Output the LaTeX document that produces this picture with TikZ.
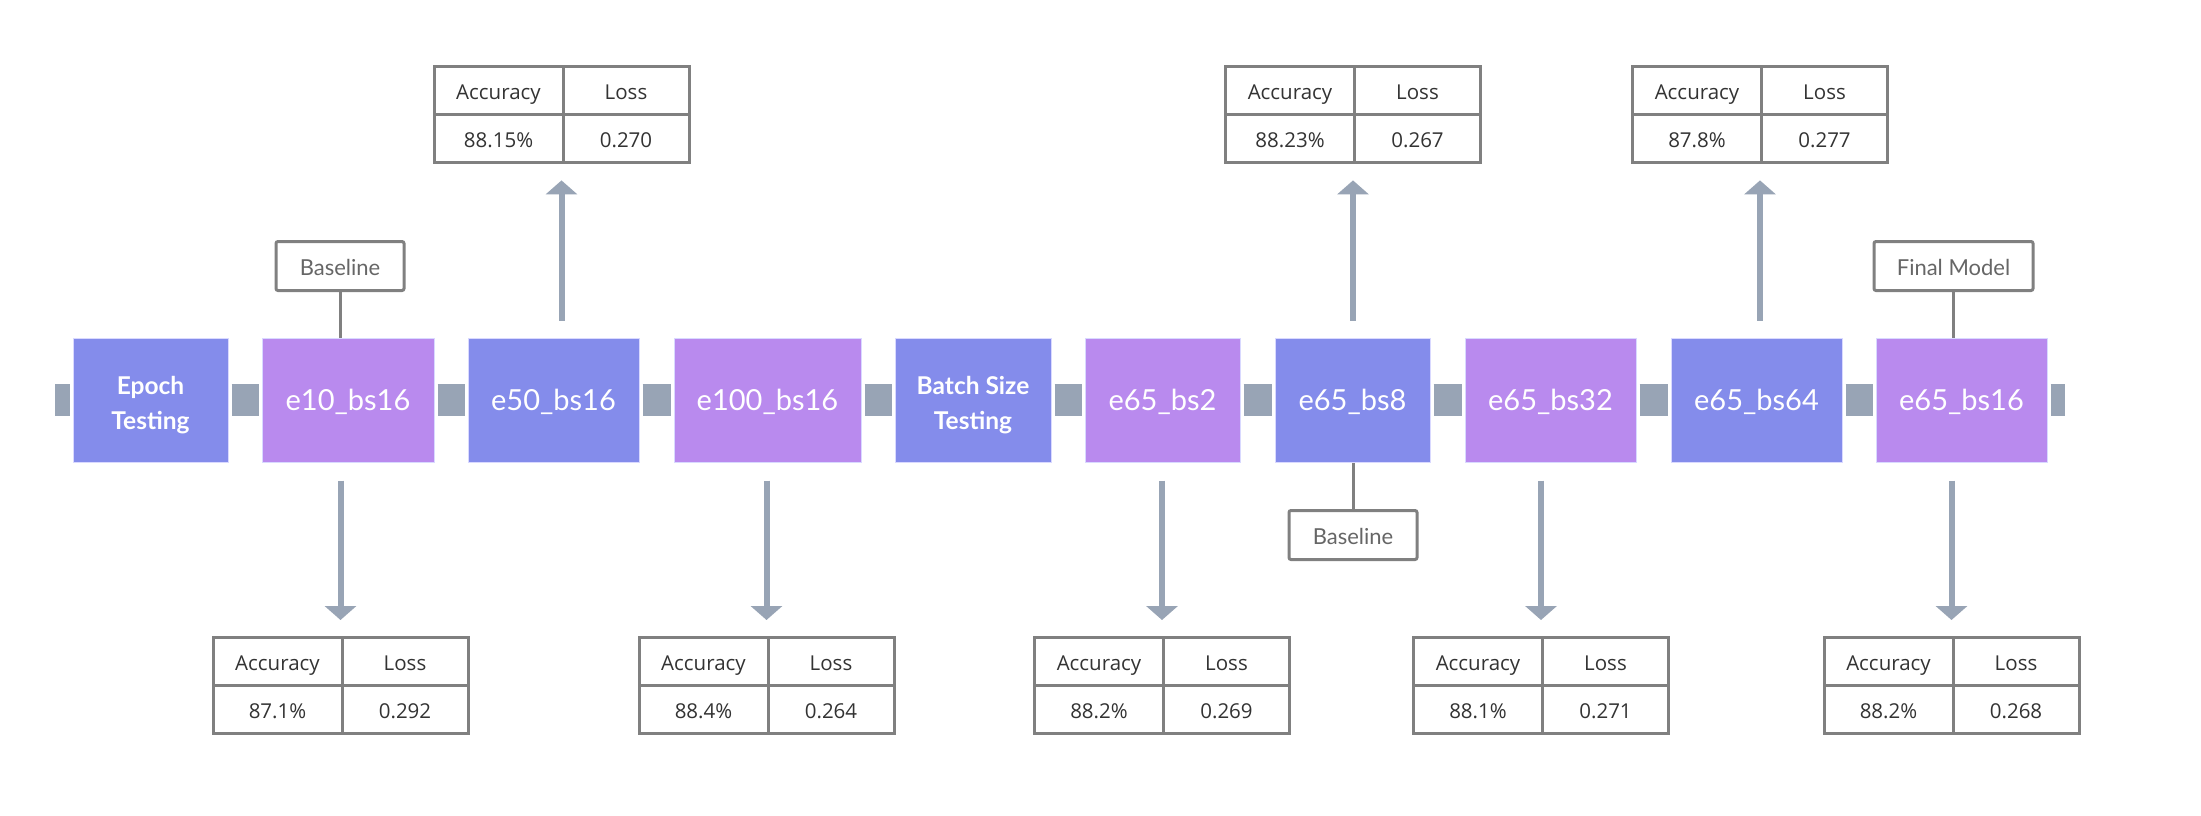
\documentclass[tikz,border=0pt]{standalone}
\usepackage{fontspec}
\setmainfont{Lato}
\newfontfamily\tabfont{Open Sans}
\usetikzlibrary{arrows.meta,fit}
\definecolor{bluebox}{HTML}{848CEB}
\definecolor{purplebox}{HTML}{B98AEE}
\definecolor{conn}{HTML}{98A4B5}
\definecolor{framegray}{HTML}{808080}
\definecolor{tabtext}{HTML}{333333}
\definecolor{labtext}{HTML}{666666}
\tikzset{
  boxbase/.style={minimum height=124pt, inner sep=0pt, text=white, draw=white!85!blue, line width=1pt},
  mainbox/.style={boxbase, text height=21pt, text depth=0pt, font=\fontsize{29}{35}\selectfont},
  bluestep/.style={mainbox, fill=bluebox},
  purplestep/.style={mainbox, fill=purplebox},
  headbox/.style={boxbase, fill=bluebox},
  headtext/.style={inner sep=0pt, text=white, align=center, yshift=-5pt,
    font=\fontsize{24.5}{35}\selectfont\bfseries},
  linkbar/.style={draw=conn, line width=32pt, line cap=butt, shorten <=3pt, shorten >=3pt},
  flowarrow/.style={draw=conn, line width=6pt, -{Triangle[width=31pt,length=14pt]}},
  cellA/.style={draw=framegray, line width=3pt, minimum width=129pt, minimum height=48pt, inner sep=0pt,
    text height=20pt, text depth=2pt,
    text=tabtext, font=\tabfont\fontsize{20.5}{24}\selectfont},
  cellB/.style={cellA, minimum width=126pt},
  tagbox/.style={draw=framegray, line width=3pt, rounded corners=2pt, fill=white, minimum height=49pt,
    inner sep=0pt, text height=19pt, text depth=1pt, text=labtext, font=\fontsize{22}{24}\selectfont},
  tagline/.style={draw=framegray, line width=3pt},
}
\newcommand{\restable}[5]{%
  \node[cellA] (#1a) at (#2-63,#3+24) {Accuracy};
  \node[cellB] (#1b) at (#2+64.5,#3+24) {Loss};
  \node[cellA] (#1c) at (#2-63,#3+72) {#4};
  \node[cellB] (#1d) at (#2+64.5,#3+72) {#5};
  \node[fit=(#1a)(#1d), inner sep=0pt] (#1) {};
}
\begin{document}
\begin{tikzpicture}[x=1pt, y=-1pt]
\fill[white] (0,0) rectangle (2201,815);
\useasboundingbox (0,0) rectangle (2201,815);

% main row
\node[headbox, minimum width=155pt, label={[headtext]center:{Epoch\\Testing}}] (epoch) at (150.5,400) {};
\node[purplestep, minimum width=172pt] (e10) at (348,400) {e10\_bs16};
\node[bluestep, minimum width=171pt] (e50) at (553.5,400) {e50\_bs16};
\node[purplestep, minimum width=187pt] (e100) at (767.5,400) {e100\_bs16};
\node[headbox, minimum width=156pt, label={[headtext]center:{Batch Size\\Testing}}] (batch) at (973,400) {};
\node[purplestep, minimum width=155pt] (bs2) at (1162.5,400) {e65\_bs2};
\node[bluestep, minimum width=155pt] (bs8) at (1352.5,400) {e65\_bs8};
\node[purplestep, minimum width=171pt] (bs32) at (1550.5,400) {e65\_bs32};
\node[bluestep, minimum width=171pt] (bs64) at (1756.5,400) {e65\_bs64};
\node[purplestep, minimum width=171pt] (bs16) at (1961.5,400) {e65\_bs16};

\coordinate (lstart) at (55,400);
\coordinate (rend) at (2065,400);
\draw[linkbar, shorten <=0pt] (lstart) -- (epoch.west);
\draw[linkbar] (epoch.east) -- (e10.west);
\draw[linkbar] (e10.east) -- (e50.west);
\draw[linkbar] (e50.east) -- (e100.west);
\draw[linkbar] (e100.east) -- (batch.west);
\draw[linkbar] (batch.east) -- (bs2.west);
\draw[linkbar] (bs2.east) -- (bs8.west);
\draw[linkbar] (bs8.east) -- (bs32.west);
\draw[linkbar] (bs32.east) -- (bs64.west);
\draw[linkbar] (bs64.east) -- (bs16.west);
\draw[linkbar, shorten >=0pt] (bs16.east) -- (rend);

% tables
\restable{ta}{561.5}{66.7}{88.15\%}{0.270}
\restable{tb}{1353}{66.7}{88.23\%}{0.267}
\restable{tc}{1760}{66.7}{87.8\%}{0.277}
\restable{td}{340.5}{637.7}{87.1\%}{0.292}
\restable{te}{766.5}{637.7}{88.4\%}{0.264}
\restable{tf}{1162}{637.7}{88.2\%}{0.269}
\restable{tg}{1541}{637.7}{88.1\%}{0.271}
\restable{th}{1951.5}{637.7}{88.2\%}{0.268}

% arrows
\draw[flowarrow, shorten <=17pt, shorten >=16pt] (e50.north -| ta.south) -- (ta.south);
\draw[flowarrow, shorten <=17pt, shorten >=16pt] (bs8.north -| tb.south) -- (tb.south);
\draw[flowarrow, shorten <=17pt, shorten >=16pt] (bs64.north -| tc.south) -- (tc.south);
\draw[flowarrow, shorten <=18pt, shorten >=16pt] (e10.south -| td.north) -- (td.north);
\draw[flowarrow, shorten <=18pt, shorten >=16pt] (e100.south -| te.north) -- (te.north);
\draw[flowarrow, shorten <=18pt, shorten >=16pt] (bs2.south -| tf.north) -- (tf.north);
\draw[flowarrow, shorten <=18pt, shorten >=16pt] (bs32.south -| tg.north) -- (tg.north);
\draw[flowarrow, shorten <=18pt, shorten >=16pt] (bs16.south -| th.north) -- (th.north);

% tags
\node[tagbox, minimum width=128pt] (base1) at (340,266) {Baseline};
\node[tagbox, minimum width=128pt] (base2) at (1353,535) {Baseline};
\node[tagbox, minimum width=159pt] (final) at (1953.5,266) {Final Model};
\draw[tagline] (base1.south) -- (base1.south |- e10.north);
\draw[tagline] (base2.north) -- (base2.north |- bs8.south);
\draw[tagline] (final.south) -- (final.south |- bs16.north);
\end{tikzpicture}
\end{document}
